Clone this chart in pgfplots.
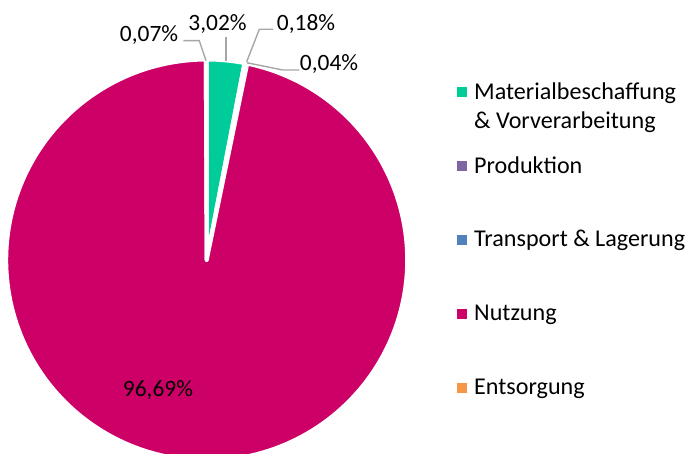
\documentclass[border=0pt]{standalone}
\usepackage{pgfplots}
\pgfplotsset{compat=1.18}
\usepackage{fontspec}
\setmainfont{Carlito}
\definecolor{cMat}{RGB}{0,204,153}
\definecolor{cProd}{RGB}{128,100,162}
\definecolor{cTrans}{RGB}{79,129,189}
\definecolor{cNutz}{RGB}{204,0,102}
\definecolor{cEnts}{RGB}{247,150,70}
\definecolor{leader}{RGB}{166,166,166}
\newcommand{\lbl}{\fontsize{23.5}{28}\selectfont}
\newcommand{\leg}{\fontsize{24.2}{29}\selectfont}
% pie geometry (axis units = px)
\def\cx{206.7}
\def\cy{194}
\def\rr{200.5}
\newcommand{\pieslice}[3]{%
  \addplot[fill=#3, draw=white, line width=4bp, line join=round,
    domain={(#1)*3.6}:{(#1+#2)*3.6}, samples=200]
    ({\cx+\rr*sin(x)},{\cy+\rr*cos(x)}) -- (\cx,\cy) -- cycle;
}
\begin{document}
\begin{tikzpicture}
\begin{axis}[
  scale only axis, width=688bp, height=454bp,
  xmin=0, xmax=688, ymin=0, ymax=454,
  hide axis, clip=true,
]
% values (percent): Material 3.02, Produktion 0.18, Transport 0.04, Nutzung 96.69, Entsorgung 0.07
\pieslice{0}{3.02}{cMat}
\pieslice{3.02}{0.18}{cProd}
\pieslice{3.20}{0.04}{cTrans}
\pieslice{3.24}{96.69}{cNutz}
\pieslice{99.93}{0.07}{cEnts}
% leader lines
\addplot[leader, line width=1.4bp] coordinates {(183.3,413.3) (199.3,413.3) (206,393.3)};
\addplot[leader, line width=1.4bp] coordinates {(226,417.3) (226,393.3)};
\addplot[leader, line width=1.4bp] coordinates {(273.3,424.7) (259.3,424.7) (246.7,392.3)};
\addplot[leader, line width=1.4bp] coordinates {(299.3,384) (282.7,384) (246.7,391.3)};
% data labels
\node[anchor=base, inner sep=0pt, font=\lbl] at (149,412.5) {0,07\%};
\node[anchor=base, inner sep=0pt, font=\lbl] at (217.5,423.5) {3,02\%};
\node[anchor=base, inner sep=0pt, font=\lbl] at (306,423.5) {0,18\%};
\node[anchor=base, inner sep=0pt, font=\lbl] at (329,383.5) {0,04\%};
\node[anchor=base, inner sep=0pt, font=\lbl] at (158,57.5) {96,69\%};
% legend markers
\addplot[only marks, mark=square*, mark size=4.5bp, color=cMat] coordinates {(462,362.3)};
\addplot[only marks, mark=square*, mark size=4.5bp, color=cProd] coordinates {(462,288)};
\addplot[only marks, mark=square*, mark size=4.5bp, color=cTrans] coordinates {(462,214)};
\addplot[only marks, mark=square*, mark size=4.5bp, color=cNutz] coordinates {(462,140)};
\addplot[only marks, mark=square*, mark size=4.5bp, color=cEnts] coordinates {(462,66)};
% legend text
\node[anchor=base west, inner sep=0pt, font=\leg] at (474,354) {Materialbeschaffung};
\node[anchor=base west, inner sep=0pt, font=\leg] at (474,325.7) {\& Vorverarbeitung};
\node[anchor=base west, inner sep=0pt, font=\leg] at (474,280.7) {Produktion};
\node[anchor=base west, inner sep=0pt, font=\leg] at (474,207.3) {Transport \& Lagerung};
\node[anchor=base west, inner sep=0pt, font=\leg] at (474,133) {Nutzung};
\node[anchor=base west, inner sep=0pt, font=\leg] at (474,59) {Entsorgung};
\end{axis}
\pgfresetboundingbox
\useasboundingbox (current axis.south west) rectangle (current axis.north east);
\end{tikzpicture}
\end{document}
